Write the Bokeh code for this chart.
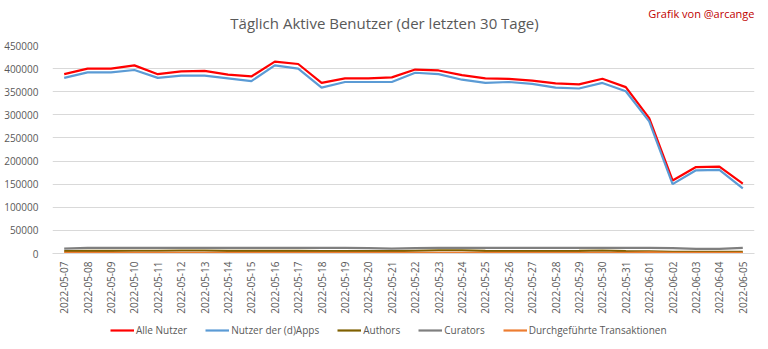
from bokeh.plotting import figure
from bokeh.models import FactorRange, Range1d, FixedTicker, Legend, LegendItem, Label, ColumnDataSource
from bokeh.layouts import column
from bokeh.embed import file_html
from bokeh.resources import INLINE
from math import pi

dates = ["2022-05-07", "2022-05-08", "2022-05-09", "2022-05-10", "2022-05-11", "2022-05-12",
         "2022-05-13", "2022-05-14", "2022-05-15", "2022-05-16", "2022-05-17", "2022-05-18",
         "2022-05-19", "2022-05-20", "2022-05-21", "2022-05-22", "2022-05-23", "2022-05-24",
         "2022-05-25", "2022-05-26", "2022-05-27", "2022-05-28", "2022-05-29", "2022-05-30",
         "2022-05-31", "2022-06-01", "2022-06-02", "2022-06-03", "2022-06-04", "2022-06-05"]

alle_nutzer = [388000, 400000, 400000, 407000, 388000, 394000, 395000, 387000, 383000, 415000,
               410000, 369000, 379000, 379000, 381000, 398000, 396000, 386000, 379000, 378000,
               374000, 368000, 366000, 378000, 360000, 293000, 158000, 187000, 188000, 151000]
nutzer_dapps = [380000, 392000, 392000, 397000, 380000, 385000, 385000, 379000, 373000, 407000,
                400000, 359000, 371000, 371000, 371000, 391000, 388000, 376000, 369000, 371000,
                367000, 359000, 357000, 369000, 351000, 286000, 150000, 180000, 181000, 141000]
authors = [5000, 5500, 5500, 6000, 6000, 6500, 6500, 5500, 5500, 5500,
           5500, 5000, 5000, 5000, 5000, 6000, 7000, 7000, 5500, 5000,
           5000, 5000, 5500, 6500, 5000, 4500, 3500, 3500, 3500, 3500]
curators = [10500, 12000, 12000, 12000, 12000, 12000, 12000, 12000, 12000, 12000,
            12000, 12000, 12000, 11500, 10500, 11500, 12000, 12000, 12000, 12000,
            12000, 12000, 12000, 12000, 12000, 12000, 11500, 10000, 10000, 12000]
transaktionen = [1500, 1500, 1500, 1500, 1500, 1500, 1500, 1500, 1500, 1500,
                 1500, 1500, 1500, 1500, 1500, 1500, 1500, 1500, 1500, 1500,
                 1500, 1500, 1500, 1500, 1500, 2500, 1500, 1500, 1500, 1500]

series_names = ["Alle Nutzer", "Nutzer der (d)Apps", "Authors", "Curators", "Durchgeführte Transaktionen"]
series_colors = ["#ff0000", "#5b9bd5", "#7f6000", "#7f7f7f", "#ed7d31"]
y_ticks = [0, 50000, 100000, 150000, 200000, 250000, 300000, 350000, 400000, 450000]

title_text = "Täglich Aktive Benutzer (der letzten 30 Tage)"
credit_text = "Grafik von @arcange"

text_color = "#595959"
font = "Open Sans"

# ---- header (title + credit); frame is aligned with the chart frame (x 52..754) ----
head = figure(width=768, height=39, x_range=Range1d(52, 754), y_range=Range1d(39, 0),
              output_backend="svg", toolbar_location=None, min_border=0)
head.axis.visible = False
head.grid.visible = False
head.outline_line_color = None
head.add_layout(Label(x=384, y=22, text=title_text, text_font=font, text_font_size="15px",
                      text_color=text_color, text_align="center", text_baseline="middle"))
head.add_layout(Label(x=754, y=13, text=credit_text, text_font=font, text_font_size="11px",
                      text_color="#c00000", text_align="right", text_baseline="middle"))

# ---- main chart ----
src = ColumnDataSource(dict(x=dates, a=alle_nutzer, b=nutzer_dapps, c=authors, d=curators, e=transaktionen))

p = figure(width=768, height=279, x_range=FactorRange(*dates, range_padding=0),
           y_range=Range1d(0, 450000), output_backend="svg", toolbar_location=None,
           min_border_left=52, min_border_right=14, min_border_top=6, min_border_bottom=65)
p.outline_line_color = None

p.yaxis.ticker = FixedTicker(ticks=y_ticks)
p.yaxis.formatter.use_scientific = False
p.yaxis.axis_line_color = None
p.yaxis.major_tick_line_color = None
p.yaxis.minor_tick_line_color = None
p.yaxis.major_label_text_font = font
p.yaxis.major_label_text_font_size = "10px"
p.yaxis.major_label_text_color = text_color
p.yaxis.major_label_standoff = 8

p.xaxis.axis_line_color = "#d9d9d9"
p.xaxis.major_tick_line_color = None
p.xaxis.minor_tick_line_color = None
p.xaxis.major_tick_out = 0
p.xaxis.major_label_orientation = pi / 2
p.xaxis.major_label_text_font = font
p.xaxis.major_label_text_font_size = "10px"
p.xaxis.major_label_text_color = text_color
p.xaxis.major_label_standoff = 8

p.xgrid.grid_line_color = None
p.ygrid.grid_line_color = "#d9d9d9"

for col, colr in zip(["a", "b", "c", "d", "e"], series_colors):
    p.line("x", col, source=src, line_color=colr, line_width=2.2)

# ---- legend strip (dummy renderers lie outside the visible range) ----
leg = figure(width=768, height=31, x_range=Range1d(0, 1), y_range=Range1d(0, 1),
             output_backend="svg", toolbar_location=None, min_border=0)
leg.axis.visible = False
leg.grid.visible = False
leg.outline_line_color = None
items = []
for name, colr in zip(series_names, series_colors):
    r = leg.line(x=[5, 6], y=[5, 6], line_color=colr, line_width=2.2)
    items.append(LegendItem(label=name, renderers=[r]))
legend = Legend(items=items, orientation="horizontal", location=(58, 12),
                label_text_font=font, label_text_font_size="10px", label_text_color=text_color,
                glyph_width=24, label_standoff=2, spacing=18, padding=0, margin=0,
                label_height=12, glyph_height=12,
                border_line_color=None, background_fill_alpha=0)
leg.add_layout(legend)

layout = column(head, p, leg, spacing=0)
open("out.html", "w").write(file_html(layout, INLINE))
